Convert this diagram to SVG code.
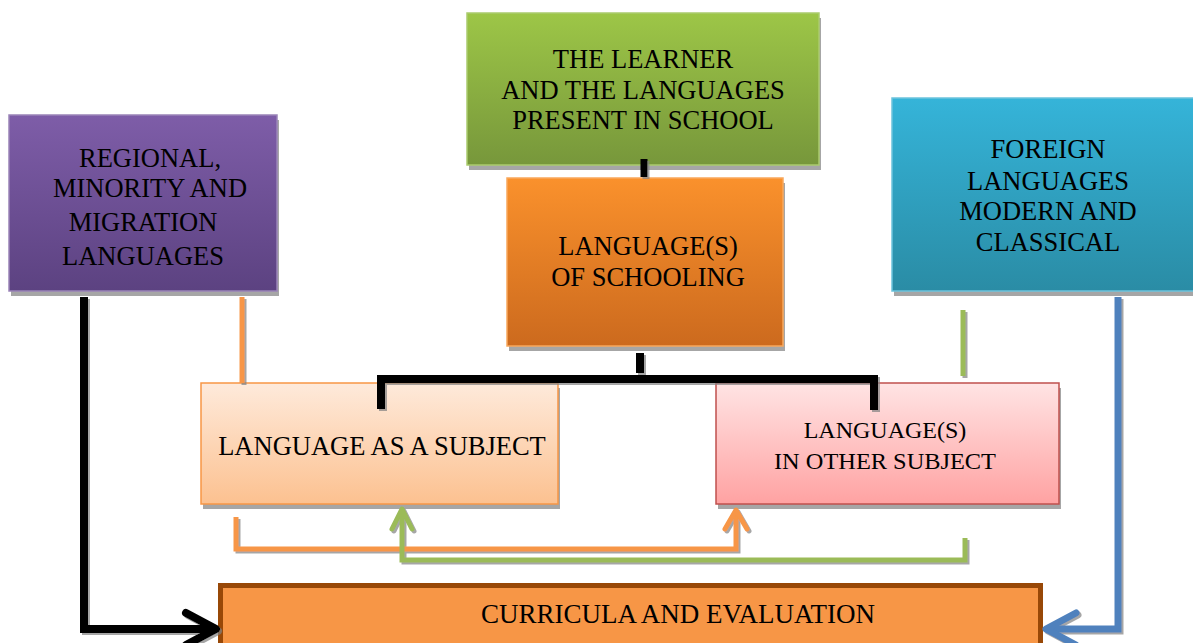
<svg xmlns="http://www.w3.org/2000/svg" width="1193" height="643" viewBox="0 0 1193 643">
<defs>
<linearGradient id="gGreen" x1="0" y1="0" x2="0" y2="1"><stop offset="0" stop-color="#9DC647"/><stop offset="1" stop-color="#77973B"/></linearGradient>
<linearGradient id="gPurple" x1="0" y1="0" x2="0" y2="1"><stop offset="0" stop-color="#7E5DA8"/><stop offset="1" stop-color="#5C4281"/></linearGradient>
<linearGradient id="gBlue" x1="0" y1="0" x2="0" y2="1"><stop offset="0" stop-color="#35B4D9"/><stop offset="1" stop-color="#2A8CA5"/></linearGradient>
<linearGradient id="gOrange" x1="0" y1="0" x2="0" y2="1"><stop offset="0" stop-color="#FA912C"/><stop offset="1" stop-color="#CC6A1E"/></linearGradient>
<linearGradient id="gPeach" x1="0" y1="0" x2="0" y2="1"><stop offset="0" stop-color="#FEEADB"/><stop offset="1" stop-color="#FCC190"/></linearGradient>
<linearGradient id="gPink" x1="0" y1="0" x2="0" y2="1"><stop offset="0" stop-color="#FFE4E4"/><stop offset="1" stop-color="#FFA2A2"/></linearGradient>
<filter id="sh" x="-10%" y="-10%" width="130%" height="130%"><feDropShadow dx="2" dy="2" stdDeviation="0.7" flood-color="#808080" flood-opacity="0.7"/></filter>
</defs>
<style>
text{font-family:'Liberation Serif','DejaVu Serif',serif;font-size:26.5px;fill:#000;text-anchor:middle}
.s{fill:#A6A6A6}
.c{fill:none;stroke-linecap:butt;stroke-linejoin:miter}
.ah{fill:none;stroke-linecap:round;stroke-linejoin:round}
</style>

<g id="learner">
<rect class="s" x="469" y="18" width="352" height="152"/>
<rect x="467" y="13" width="352" height="152" fill="url(#gGreen)" stroke="#ABCB6E" stroke-width="1.5"/>
<text x="643" y="68">THE LEARNER</text>
<text x="643" y="99">AND THE LANGUAGES</text>
<text x="643" y="129">PRESENT IN SCHOOL</text>
</g>

<g id="regional">
<rect class="s" x="11" y="120" width="268" height="176"/>
<rect x="9" y="115" width="268" height="176" fill="url(#gPurple)" stroke="#9A84B8" stroke-width="1.5"/>
<text x="150" y="167">REGIONAL,</text>
<text x="150" y="197">MINORITY AND</text>
<text x="143" y="231">MIGRATION</text>
<text x="143" y="265">LANGUAGES</text>
</g>

<g id="foreign">
<rect class="s" x="894" y="103" width="310" height="193"/>
<rect x="892" y="98" width="310" height="193" fill="url(#gBlue)" stroke="#6CC3DD" stroke-width="1.5"/>
<text x="1048" y="158">FOREIGN</text>
<text x="1048" y="190">LANGUAGES</text>
<text x="1048" y="220">MODERN AND</text>
<text x="1048" y="251">CLASSICAL</text>
</g>

<g id="schooling">
<rect class="s" x="509" y="183" width="276" height="168"/>
<rect x="507" y="178" width="276" height="168" fill="url(#gOrange)" stroke="#F9A85C" stroke-width="1.5"/>
<text x="648" y="255">LANGUAGE(S)</text>
<text x="648" y="286">OF SCHOOLING</text>
</g>

<g id="subject">
<rect class="s" x="203" y="388" width="357" height="121"/>
<rect x="201" y="383" width="357" height="121" fill="url(#gPeach)" stroke="#F79646" stroke-width="1.5"/>
<text x="382" y="455">LANGUAGE AS A SUBJECT</text>
</g>

<g id="other">
<rect class="s" x="718" y="388" width="343" height="121"/>
<rect x="716" y="383" width="343" height="121" fill="url(#gPink)" stroke="#C0504D" stroke-width="1.5"/>
<text x="885" y="438" style="font-size:24px">LANGUAGE(S)</text>
<text x="885" y="469" style="font-size:24px" textLength="222" lengthAdjust="spacingAndGlyphs">IN OTHER SUBJECT</text>
</g>

<g id="curricula">
<rect x="220.5" y="585.5" width="820" height="70" fill="#F79646" stroke="#984807" stroke-width="5"/>
<text x="678" y="623" style="font-size:27px">CURRICULA AND EVALUATION</text>
</g>

<g id="connectors" filter="url(#sh)">
<path class="c" d="M644,159 V177" stroke="#000" stroke-width="7"/>
<path class="c" d="M640,353 V373" stroke="#000" stroke-width="8"/>
<path class="c" d="M381,409 V379 H874 V410" stroke="#000" stroke-width="8"/>
<path class="c" d="M242,297 V383" stroke="#F79646" stroke-width="5"/>
<path class="c" d="M963,310 V376" stroke="#9BBB59" stroke-width="5"/>
<path class="c" d="M236,517 V549 H736 V512" stroke="#F79646" stroke-width="5"/>
<path class="ah" d="M725,529 L736,510 L747,529" stroke="#F79646" stroke-width="5"/>
<path class="c" d="M965,538 V560 H402 V511" stroke="#9BBB59" stroke-width="5"/>
<path class="ah" d="M392,529 L402,509 L412,529" stroke="#9BBB59" stroke-width="5"/>
<path class="c" d="M84,297 V629 H214" stroke="#000" stroke-width="8"/>
<path class="ah" d="M186,613 L216,629 L186,645" stroke="#000" stroke-width="8"/>
<path class="c" d="M1118,297 V629 H1048" stroke="#4F81BD" stroke-width="7"/>
<path class="ah" d="M1076,613 L1046,629 L1076,645" stroke="#4F81BD" stroke-width="7"/>
</g>
</svg>
